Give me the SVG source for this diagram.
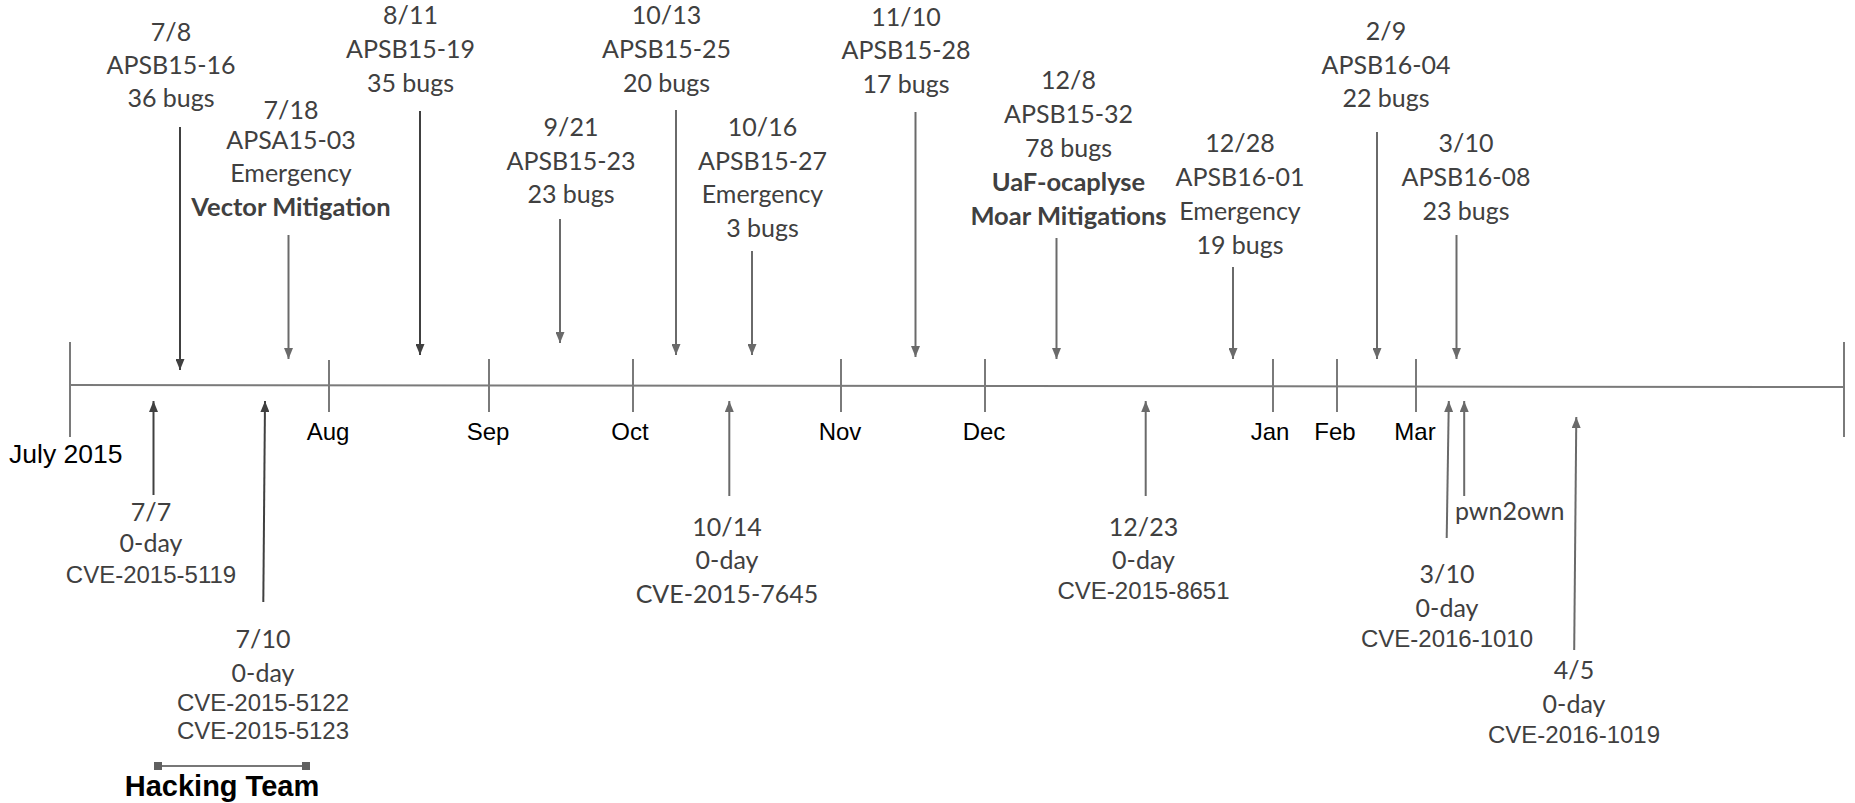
<svg xmlns="http://www.w3.org/2000/svg" width="1855" height="803" viewBox="0 0 1855 803">
<style>
.c{font-family:Lato,"Liberation Sans",sans-serif;font-size:25px;fill:#404040;text-anchor:middle}
.cb{font-family:Lato,"Liberation Sans",sans-serif;font-size:25.5px;font-weight:bold;fill:#404040;text-anchor:middle}
.a{font-family:"Liberation Sans",Arial,sans-serif;font-size:24px;fill:#404040;text-anchor:middle}
.m{font-family:"Liberation Sans",Arial,sans-serif;font-size:24px;fill:#000;text-anchor:middle}
.ax{stroke:#7a7a7a;stroke-width:2;fill:none}
.ar{stroke:#6a6a6a;stroke-width:2;fill:none;marker-end:url(#h)}
.ard{stroke:#404040;stroke-width:2;fill:none;marker-end:url(#hd)}
</style>
<defs>
<marker id="h" markerUnits="userSpaceOnUse" markerWidth="11" markerHeight="9" refX="11" refY="4.5" orient="auto"><path d="M0,0 L11,4.5 L0,9 z" fill="#6a6a6a"/></marker>
<marker id="hd" markerUnits="userSpaceOnUse" markerWidth="11" markerHeight="9" refX="11" refY="4.5" orient="auto"><path d="M0,0 L11,4.5 L0,9 z" fill="#404040"/></marker>
</defs>
<rect width="1855" height="803" fill="#fff"/>
<g id="axis">
<line class="ax" x1="70" y1="385" x2="1844" y2="387"/>
<line class="ax" x1="70" y1="342" x2="70" y2="437"/>
<line class="ax" x1="1844" y1="342" x2="1844" y2="437"/>
<line class="ax" x1="329" y1="360" x2="329" y2="412"/>
<line class="ax" x1="489" y1="359" x2="489" y2="412"/>
<line class="ax" x1="633" y1="359" x2="633" y2="412"/>
<line class="ax" x1="841" y1="359" x2="841" y2="412"/>
<line class="ax" x1="985" y1="359" x2="985" y2="412"/>
<line class="ax" x1="1273" y1="359" x2="1273" y2="412"/>
<line class="ax" x1="1337" y1="359" x2="1337" y2="412"/>
<line class="ax" x1="1416" y1="359" x2="1416" y2="412"/>
<text class="m" x="9" y="463" style="text-anchor:start;font-size:26.5px">July 2015</text>
<text class="m" x="328" y="440">Aug</text>
<text class="m" x="488" y="440">Sep</text>
<text class="m" x="630" y="440">Oct</text>
<text class="m" x="840" y="440">Nov</text>
<text class="m" x="984" y="440">Dec</text>
<text class="m" x="1270" y="440">Jan</text>
<text class="m" x="1335" y="440">Feb</text>
<text class="m" x="1415" y="440">Mar</text>
</g>
<g id="connectors">
<line class="ard" x1="180" y1="127" x2="180" y2="370"/>
<line class="ar" x1="288.5" y1="235" x2="288.5" y2="359"/>
<line class="ard" x1="420" y1="111" x2="420" y2="355"/>
<line class="ar" x1="560" y1="219" x2="560" y2="343"/>
<line class="ar" x1="676" y1="110" x2="676" y2="355"/>
<line class="ar" x1="752" y1="251" x2="752" y2="355"/>
<line class="ar" x1="915.5" y1="112" x2="915.5" y2="357"/>
<line class="ar" x1="1056.5" y1="238" x2="1056.5" y2="359"/>
<line class="ar" x1="1233" y1="267" x2="1233" y2="359"/>
<line class="ar" x1="1377" y1="132" x2="1377" y2="359"/>
<line class="ar" x1="1456.5" y1="235" x2="1456.5" y2="359"/>
<line class="ard" x1="153.5" y1="495" x2="153.5" y2="401"/>
<line class="ard" x1="263.3" y1="602" x2="265" y2="401"/>
<line class="ar" x1="729.3" y1="496" x2="729.3" y2="401"/>
<line class="ar" x1="1145.7" y1="496" x2="1145.7" y2="401"/>
<line class="ar" x1="1446.7" y1="538" x2="1448.8" y2="401"/>
<line class="ar" x1="1464.2" y1="496" x2="1464.2" y2="401"/>
<line class="ar" x1="1574.2" y1="650" x2="1576.3" y2="417"/>
</g>
<g id="n-0708"><text class="c" x="171" y="41">7/8</text><text class="c" x="171" y="74">APSB15-16</text><text class="c" x="171" y="107">36 bugs</text></g>
<g id="n-0718"><text class="c" x="291" y="119">7/18</text><text class="c" x="291" y="149">APSA15-03</text><text class="c" x="291" y="182">Emergency</text><text class="cb" x="291" y="216">Vector Mitigation</text></g>
<g id="n-0811"><text class="c" x="410.5" y="24">8/11</text><text class="c" x="410.5" y="58">APSB15-19</text><text class="c" x="410.5" y="92">35 bugs</text></g>
<g id="n-0921"><text class="c" x="571" y="136">9/21</text><text class="c" x="571" y="170">APSB15-23</text><text class="c" x="571" y="203">23 bugs</text></g>
<g id="n-1013"><text class="c" x="666.5" y="24">10/13</text><text class="c" x="666.5" y="58">APSB15-25</text><text class="c" x="666.5" y="92">20 bugs</text></g>
<g id="n-1016"><text class="c" x="762.5" y="136">10/16</text><text class="c" x="762.5" y="170">APSB15-27</text><text class="c" x="762.5" y="203">Emergency</text><text class="c" x="762.5" y="237">3 bugs</text></g>
<g id="n-1110"><text class="c" x="906" y="26">11/10</text><text class="c" x="906" y="59">APSB15-28</text><text class="c" x="906" y="93">17 bugs</text></g>
<g id="n-1208"><text class="c" x="1068.5" y="89">12/8</text><text class="c" x="1068.5" y="123">APSB15-32</text><text class="c" x="1068.5" y="157">78 bugs</text><text class="cb" x="1068.5" y="191">UaF-ocaplyse</text><text class="cb" x="1068.5" y="225">Moar Mitigations</text></g>
<g id="n-1228"><text class="c" x="1240" y="152">12/28</text><text class="c" x="1240" y="186">APSB16-01</text><text class="c" x="1240" y="220">Emergency</text><text class="c" x="1240" y="254">19 bugs</text></g>
<g id="n-0209"><text class="c" x="1386" y="40">2/9</text><text class="c" x="1386" y="74">APSB16-04</text><text class="c" x="1386" y="107">22 bugs</text></g>
<g id="n-0310"><text class="c" x="1466" y="152">3/10</text><text class="c" x="1466" y="186">APSB16-08</text><text class="c" x="1466" y="220">23 bugs</text></g>
<g id="z-0707"><text class="c" x="151" y="521">7/7</text><text class="c" x="151" y="552">0-day</text><text class="a" x="151" y="583">CVE-2015-5119</text></g>
<g id="z-0710"><text class="c" x="263" y="648">7/10</text><text class="c" x="263" y="682">0-day</text><text class="a" x="263" y="711">CVE-2015-5122</text><text class="a" x="263" y="739">CVE-2015-5123</text></g>
<g id="z-1014"><text class="c" x="727" y="536">10/14</text><text class="c" x="727" y="569">0-day</text><text class="c" x="727" y="603">CVE-2015-7645</text></g>
<g id="z-1223"><text class="c" x="1143.5" y="536">12/23</text><text class="c" x="1143.5" y="569">0-day</text><text class="a" x="1143.5" y="599">CVE-2015-8651</text></g>
<g id="z-0310"><text class="c" x="1447" y="583">3/10</text><text class="c" x="1447" y="617">0-day</text><text class="a" x="1447" y="647">CVE-2016-1010</text></g>
<g id="z-pwn2own"><text class="c" x="1455" y="520" style="text-anchor:start">pwn2own</text></g>
<g id="z-0405"><text class="c" x="1574" y="679">4/5</text><text class="c" x="1574" y="713">0-day</text><text class="a" x="1574" y="743">CVE-2016-1019</text></g>
<g id="hacking-team">
<line x1="158" y1="766" x2="306" y2="766" stroke="#777" stroke-width="2"/>
<rect x="154" y="762" width="8" height="8" fill="#606060"/>
<rect x="302" y="762" width="8" height="8" fill="#606060"/>
<text x="222" y="796" style="font-family:'Liberation Sans',Arial,sans-serif;font-size:29px;font-weight:bold;fill:#000;text-anchor:middle">Hacking Team</text>
</g>
</svg>
